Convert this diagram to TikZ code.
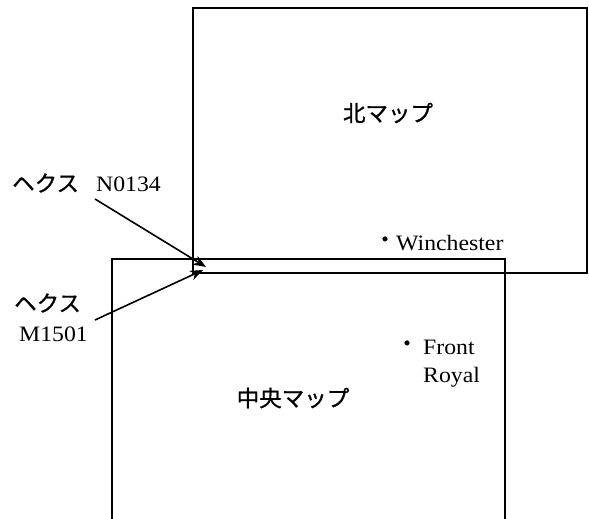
\documentclass[tikz,border=0pt]{standalone}
\usepackage{fontspec}
\setmainfont{Liberation Serif}[FakeStretch=1.08]
\newfontfamily\jp{Noto Sans CJK JP}[FakeBold=0.8]
\usetikzlibrary{arrows.meta}
\begin{document}
\begin{tikzpicture}[x=1bp,y=-1bp,
  mapbox/.style={line width=1.6bp},
  jplabel/.style={font=\jp\fontsize{22.5bp}{26bp}\selectfont, inner sep=0pt},
  latlabel/.style={font=\fontsize{22bp}{26bp}\selectfont, inner sep=0pt},
  pointer/.style={line width=1.6bp, -{Stealth[length=13bp,width=10bp]}}]
\useasboundingbox (0,0) rectangle (589,519);
% central map (open at bottom)
\draw[mapbox] (112,519) -- (112,259) -- (505,259) -- (505,519);
% north map
\draw[mapbox] (193,8) rectangle (587,273);
% titles
\node[jplabel] (north) at (388,113) {北マップ};
\node[jplabel] (central) at (293,398) {中央マップ};
% towns
\node[jplabel] (wdot) at (385,242) {・};
\node[latlabel, anchor=west] (win) at (396,243) {Winchester};
\node[jplabel] (fdot) at (407,346) {・};
\node[latlabel, anchor=west] (front) at (423,347) {Front};
\node[latlabel, anchor=west] (royal) at (423,377) {Royal};
% hex labels
\node[jplabel, anchor=west] (hex1) at (12,183) {ヘクス};
\node[latlabel, anchor=west] (n0134) at (96,184) {N0134};
\node[jplabel, anchor=west] (hex2) at (14,303) {ヘクス};
\node[latlabel, anchor=west] (m1501) at (19,334) {M1501};
% arrows
\coordinate (s1) at (95,199);
\coordinate (t1) at (206,267);
\coordinate (s2) at (95,320);
\coordinate (t2) at (203,270);
\draw[pointer] (s1) -- (t1);
\draw[pointer] (s2) -- (t2);
\end{tikzpicture}
\end{document}
